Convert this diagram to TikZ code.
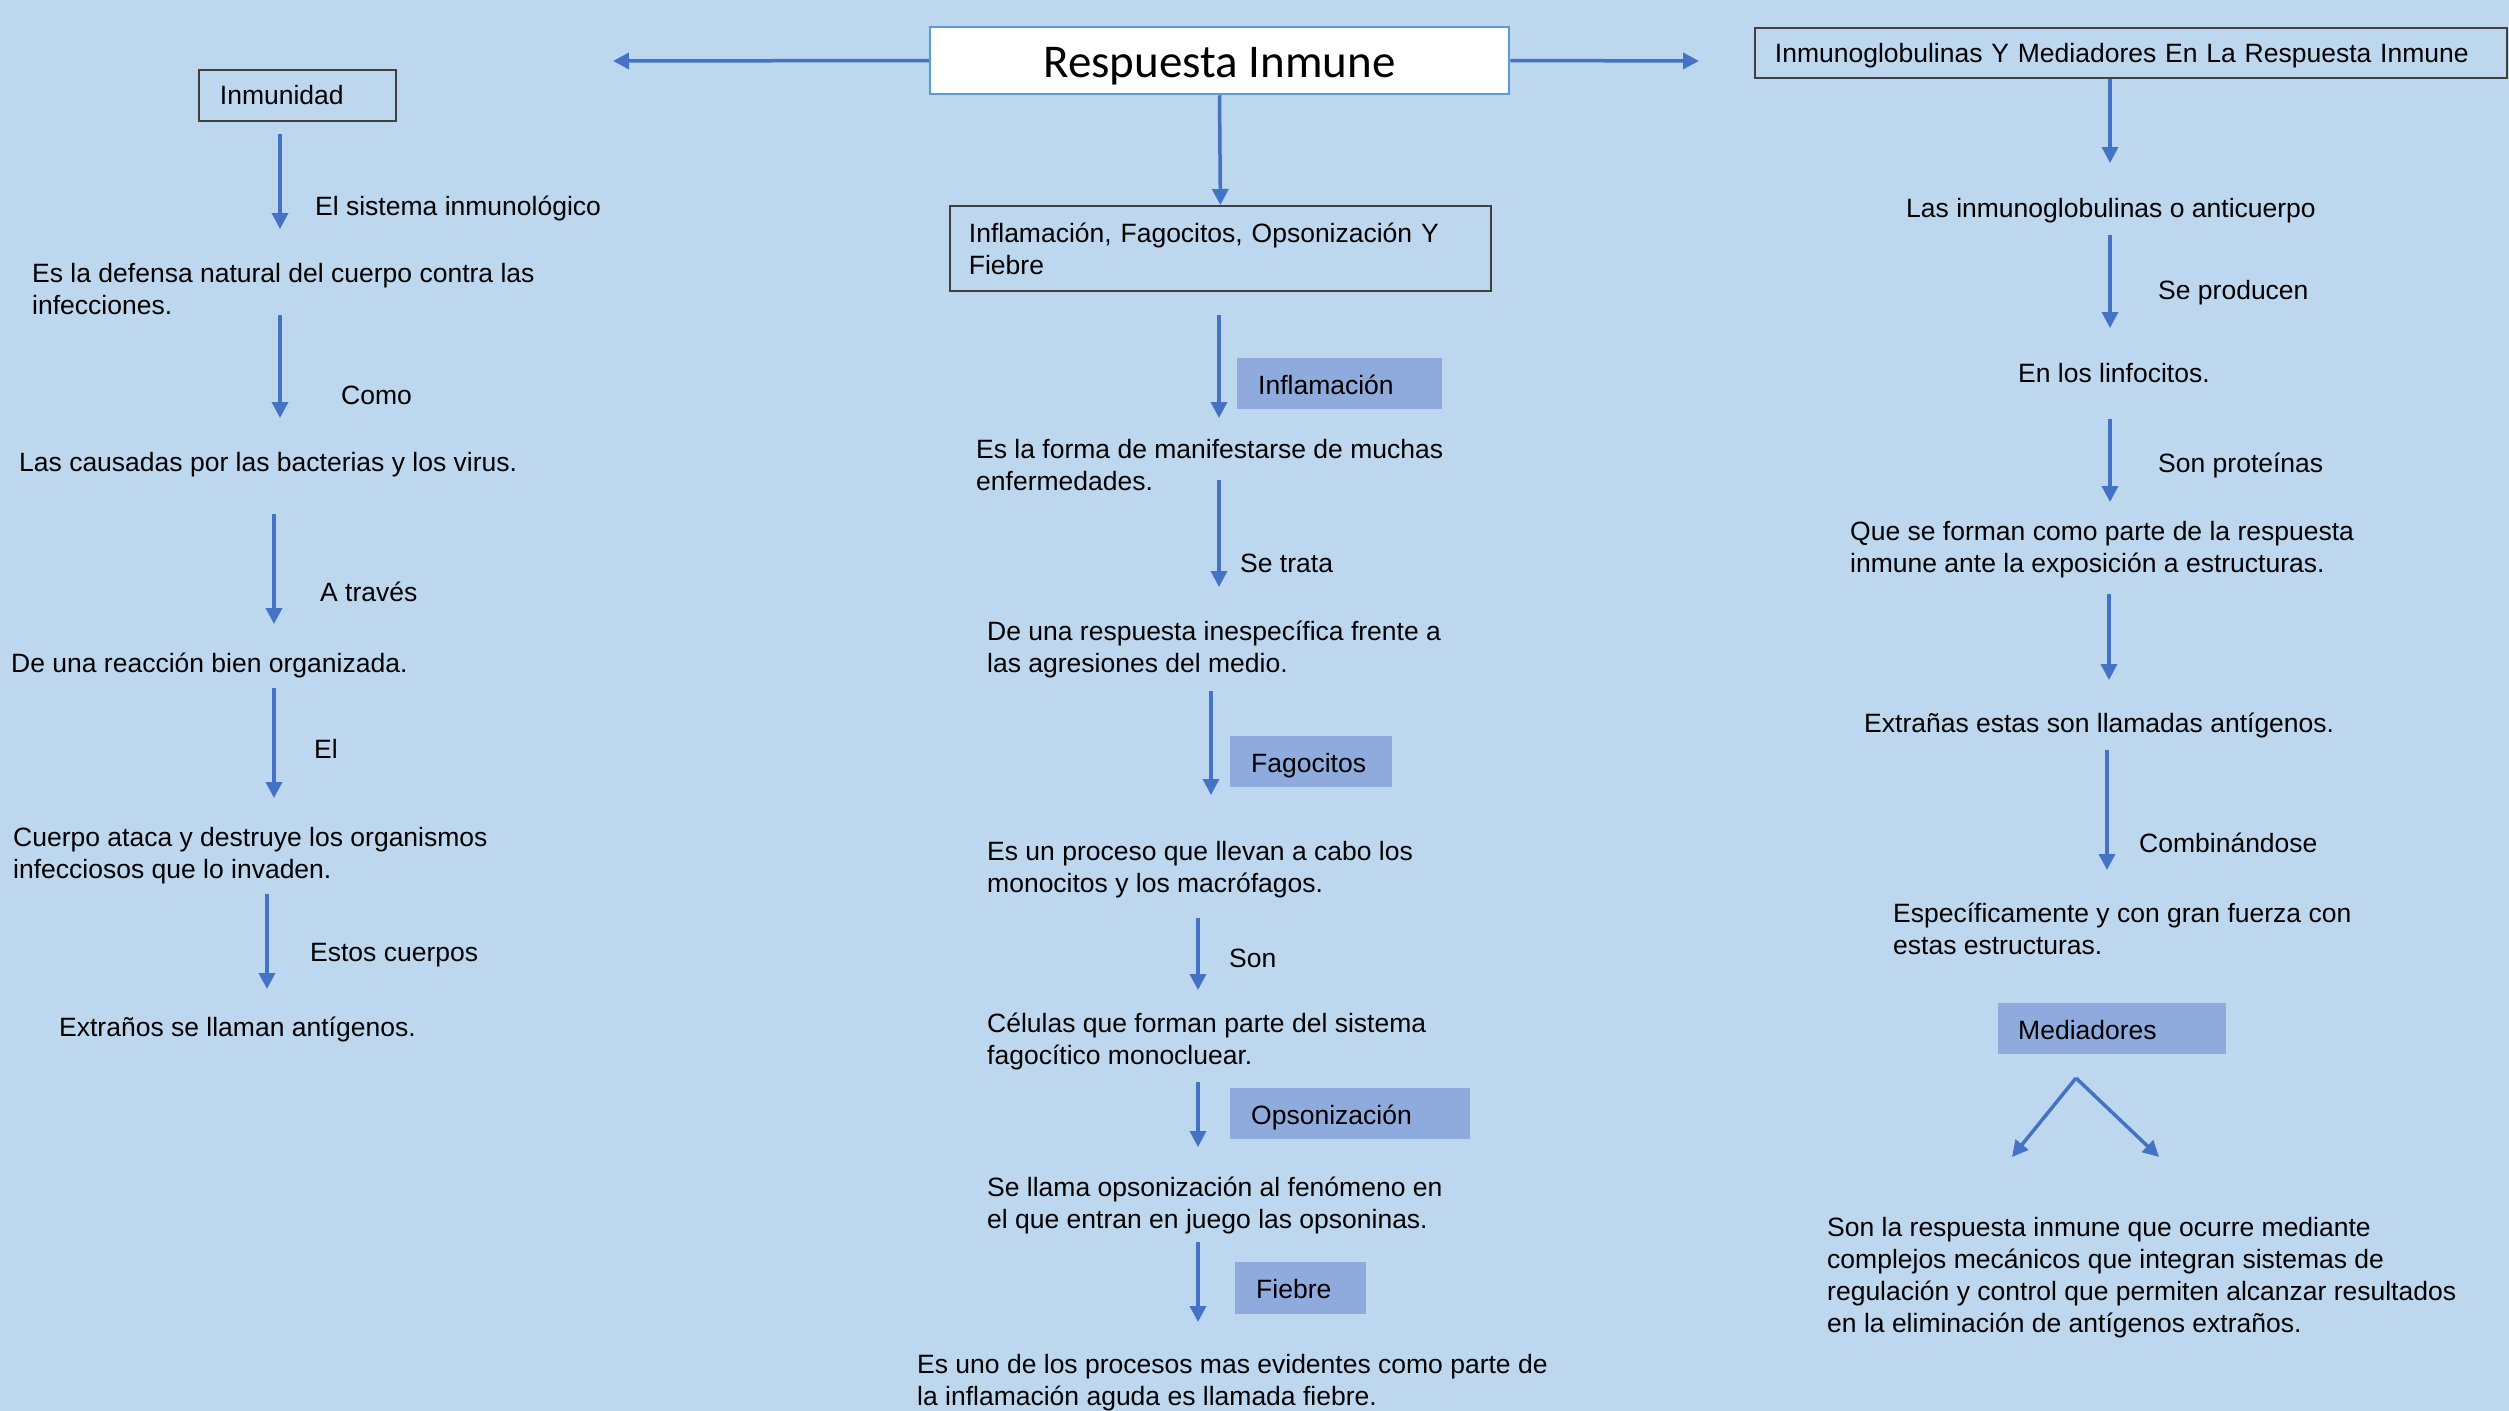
\documentclass[tikz,border=0pt]{standalone}
\usepackage{fontspec}
\setmainfont{Liberation Sans}
\newfontfamily\titulofont{Carlito}
\usetikzlibrary{arrows.meta}
\definecolor{fondo}{HTML}{BDD7EE}
\definecolor{azul}{HTML}{4472C4}
\definecolor{etiq}{HTML}{8FAADC}
\definecolor{bordeazul}{HTML}{5B9BD5}

\begin{document}
\begin{tikzpicture}[x=1pt, y=-1pt,
  flecha/.style={draw=azul, line width=3.5pt, -{Triangle[length=16pt,width=16pt]}},
  texto/.style={anchor=west, inner sep=0pt, align=left, yshift=-3pt,
    font=\fontsize{26.5}{32}\selectfont},
  caja/.style={draw=black!75, line width=1.8pt, anchor=north west, inner ysep=0pt,
    align=left, font=\fontsize{26.5}{32}\selectfont},
  etiqueta/.style={fill=etiq, anchor=north west, inner ysep=0pt, minimum height=51pt,
    align=left, text height=25pt, text depth=4pt, font=\fontsize{26.5}{32}\selectfont}]
  \useasboundingbox[fill=fondo] (0,0) rectangle (2509,1411);

  % encabezados
  \node[draw=bordeazul, fill=white, line width=2.5pt, minimum width=579pt,
    minimum height=67pt, inner sep=0pt, text height=33pt, text depth=0pt,
    font=\titulofont\fontsize{47}{50}\selectfont]
    (titulo) at (1219.5,60.5) {Respuesta Inmune};
  \node[caja, inner xsep=21pt, text width=155pt, minimum height=51pt] (inmunidad)
    at (198,69) {Inmunidad};
  \node[caja, inner xsep=20pt, text width=712pt, minimum height=50pt,
    text height=22pt, text depth=3pt] (inmuno)
    at (1754,27) {Inmunoglobulinas Y Mediadores En La Respuesta Inmune};
  \node[caja, inner xsep=19pt, text width=503pt, minimum height=85pt] (procesos)
    at (949,205) {Inflamación, Fagocitos, Opsonización Y\\Fiebre};
  \coordinate (izq) at (613,61);
  \coordinate (der) at (1699,61);
  \draw[flecha] (titulo.west) -- (izq);
  \draw[flecha] (titulo.east) -- (der);
  \draw[flecha] (titulo.south) -- (procesos.north);

  % columna izquierda
  \node[texto] (sistema) at (315,205) {El sistema inmunológico};
  \node[texto] (defensa) at (32,286) {Es la defensa natural del cuerpo contra las\\infecciones.};
  \node[texto] (como) at (341,392) {Como};
  \node[texto] (causadas) at (19,462) {Las causadas por las bacterias y los virus.};
  \node[texto] (traves) at (320,589) {A través};
  \node[texto] (reaccion) at (11,662) {De una reacción bien organizada.};
  \node[texto] (el) at (314,746) {El};
  \node[texto] (cuerpo) at (13,853) {Cuerpo ataca y destruye los organismos\\infecciosos que lo invaden.};
  \node[texto] (estos) at (310,952) {Estos cuerpos};
  \node[texto] (extranos) at (59,1026) {Extraños se llaman antígenos.};
  \coordinate (l1a) at (280,134); \coordinate (l1b) at (280,229);
  \coordinate (l2a) at (280,315); \coordinate (l2b) at (280,418);
  \coordinate (l3a) at (274,514); \coordinate (l3b) at (274,624);
  \coordinate (l4a) at (274,688); \coordinate (l4b) at (274,798);
  \coordinate (l5a) at (267,894); \coordinate (l5b) at (267,989);
  \foreach \n in {1,...,5}
    \draw[flecha] (l\n a) -- (l\n b);

  % columna central
  \node[etiqueta, inner xsep=21pt, text width=163pt] (inflamacion) at (1237,358) {Inflamación};
  \node[texto] (forma) at (976,462) {Es la forma de manifestarse de muchas\\enfermedades.};
  \node[texto] (trata) at (1240,560) {Se trata};
  \node[texto] (respuesta) at (987,646) {De una respuesta inespecífica frente a\\las agresiones del medio.};
  \node[etiqueta, inner xsep=21pt, text width=120pt] (fagocitos) at (1230,736) {Fagocitos};
  \node[texto] (proceso) at (987,867) {Es un proceso que llevan a cabo los\\monocitos y los macrófagos.};
  \node[texto] (son) at (1229,955) {Son};
  \node[texto] (celulas) at (987,1038) {Células que forman parte del sistema\\fagocítico monocluear.};
  \node[etiqueta, inner xsep=21pt, text width=198pt] (opsonizacion) at (1230,1088) {Opsonización};
  \node[texto] (llama) at (987,1202) {Se llama opsonización al fenómeno en\\el que entran en juego las opsoninas.};
  \node[etiqueta, inner xsep=21pt, text width=89pt, minimum height=52pt] (fiebre) at (1235,1262) {Fiebre};
  \node[texto] (evidentes) at (917,1380) {Es uno de los procesos mas evidentes como parte de\\la inflamación aguda es llamada fiebre.};
  \coordinate (m1a) at (1219,315); \coordinate (m1b) at (1219,418);
  \coordinate (m2a) at (1219,480); \coordinate (m2b) at (1219,587);
  \coordinate (m3a) at (1211,691); \coordinate (m3b) at (1211,795);
  \coordinate (m4a) at (1198,918); \coordinate (m4b) at (1198,990);
  \coordinate (m5a) at (1198,1082); \coordinate (m5b) at (1198,1147);
  \coordinate (m6a) at (1198,1242); \coordinate (m6b) at (1198,1322);
  \foreach \n in {1,...,6}
    \draw[flecha] (m\n a) -- (m\n b);

  % columna derecha
  \node[texto] (anticuerpo) at (1906,208) {Las inmunoglobulinas o anticuerpo};
  \node[texto] (producen) at (2158,290) {Se producen};
  \node[texto] (linfocitos) at (2018,370) {En los linfocitos.};
  \node[texto] (proteinas) at (2158,462) {Son proteínas};
  \node[texto] (forman) at (1850,547) {Que se forman como parte de la respuesta\\inmune ante la exposición a estructuras.};
  \node[texto] (antigenos) at (1864,722) {Extrañas estas son llamadas antígenos.};
  \node[texto] (combinandose) at (2139,840) {Combinándose};
  \node[texto] (especif) at (1893,926) {Específicamente y con gran fuerza con\\estas estructuras.};
  \node[etiqueta, inner xsep=20pt, text width=188pt] (mediadores) at (1998,1003) {Mediadores};
  \node[texto] (mecanicos) at (1827,1275) {Son la respuesta inmune que ocurre mediante\\complejos mecánicos que integran sistemas de\\regulación y control que permiten alcanzar resultados\\en la eliminación de antígenos extraños.};
  \coordinate (r0b) at (2110,163);
  \coordinate (r1a) at (2110,235); \coordinate (r1b) at (2110,328);
  \coordinate (r2a) at (2110,419); \coordinate (r2b) at (2110,502);
  \coordinate (r3a) at (2109,594); \coordinate (r3b) at (2109,680);
  \coordinate (r4a) at (2107,750); \coordinate (r4b) at (2107,870);
  \draw[flecha] (inmuno.south -| r0b) -- (r0b);
  \foreach \n in {1,...,4}
    \draw[flecha] (r\n a) -- (r\n b);
  % bifurcacion bajo Mediadores
  \coordinate (vertice) at (2076,1078);
  \coordinate (ramaizq) at (2012,1157);
  \coordinate (ramader) at (2159,1157);
  \draw[flecha] (vertice) -- (ramaizq);
  \draw[flecha] (vertice) -- (ramader);
\end{tikzpicture}
\end{document}
